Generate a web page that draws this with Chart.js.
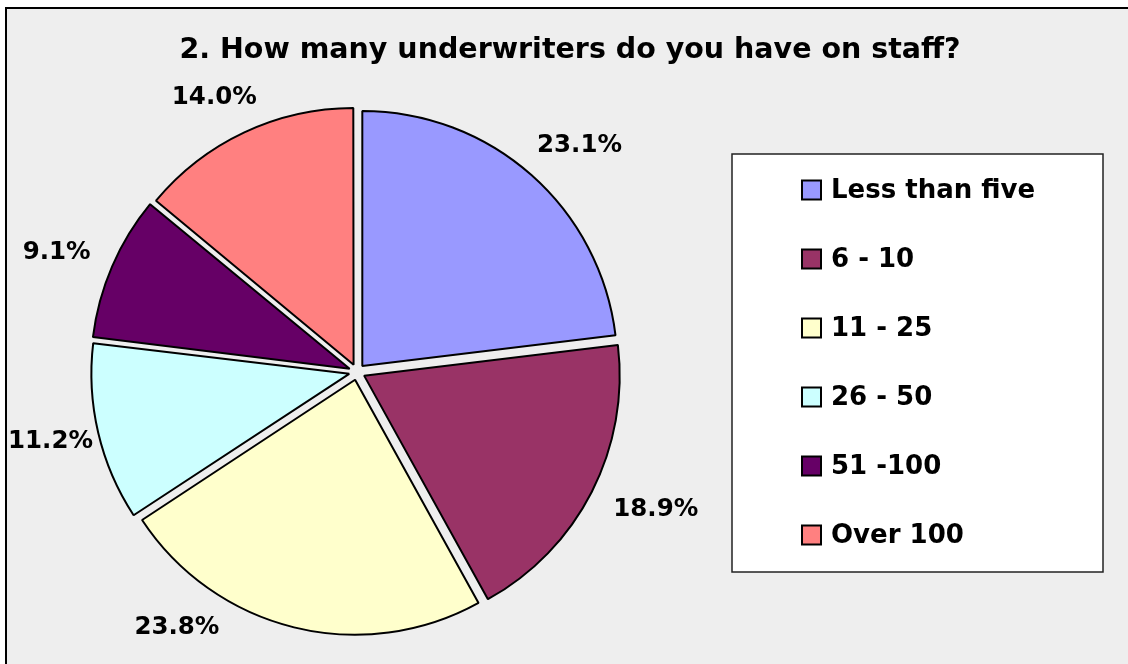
<!DOCTYPE html>
<html>
<head>
<meta charset="utf-8">
<script src="https://cdn.jsdelivr.net/npm/chart.js@4.4.1/dist/chart.umd.min.js"></script>
<style>
  html, body { margin: 0; padding: 0; background: #fff; overflow: hidden; }
  #frame { position: absolute; left: 5px; top: 7px; width: 1140px; height: 680px; border: 2px solid #000; background: #eeeeee; }
  #pie { position: absolute; left: 0; top: 0; }
</style>
</head>
<body>
<div id="frame"></div>
<canvas id="pie" width="1128" height="664"></canvas>
<script>
var title = '2. How many underwriters do you have on staff?';
var categories = ['Less than five', '6 - 10', '11 - 25', '26 - 50', '51 -100', 'Over 100'];
var shares = [23.1, 18.9, 23.8, 11.2, 9.1, 14.0];
var colors = ['#9999ff', '#993366', '#ffffcc', '#ccffff', '#660066', '#ff8080'];

var FONT = '"DejaVu Sans", Verdana, sans-serif';
var EXPLODE = 32; // chart.js moves each arc by offset / 4

// title, centred over the whole frame rather than the pie
var titleText = {
  id: 'titleText',
  afterDraw: function (chart) {
    var ctx = chart.ctx;
    ctx.save();
    ctx.font = 'bold 28.5px ' + FONT;
    ctx.fillStyle = '#000';
    ctx.textAlign = 'center';
    ctx.textBaseline = 'middle';
    ctx.fillText(title, chart.width / 2 + 6, 51);
    ctx.restore();
  }
};

// percentage labels outside each slice
var pctLabels = {
  id: 'pctLabels',
  afterDatasetsDraw: function (chart) {
    var ctx = chart.ctx;
    var meta = chart.getDatasetMeta(0);
    var minX = 8, minY = 80, maxY = 638;
    ctx.save();
    ctx.font = 'bold 24.5px ' + FONT;
    ctx.fillStyle = '#000';
    ctx.textAlign = 'center';
    ctx.textBaseline = 'middle';
    meta.data.forEach(function (arc, i) {
      var p = arc.getProps(['x', 'y', 'startAngle', 'endAngle', 'outerRadius'], true);
      var text = shares[i].toFixed(1) + '%';
      var w = ctx.measureText(text).width, h = 20;
      var off = arc.options.offset / 4, gap = 30;
      var a = (p.startAngle + p.endAngle) / 2;
      function place(ang) {
        var dx = Math.cos(ang), dy = Math.sin(ang);
        var r = p.outerRadius + off + gap;
        return { x: p.x + dx * (r + w / 2), y: p.y + dy * (r + h / 2) };
      }
      var pos = place(a), n = 0;
      while (pos.y + h / 2 > maxY && n < 300) {
        a += (a > Math.PI / 2 ? 0.005 : -0.005);
        pos = place(a); n++;
      }
      while (pos.y - h / 2 < minY && n < 600) {
        a += (a > Math.PI / 2 ? -0.005 : 0.005);
        pos = place(a); n++;
      }
      if (pos.x - w / 2 < minX) pos.x = minX + w / 2;
      ctx.fillText(text, pos.x, pos.y);
    });
    ctx.restore();
  }
};

// boxed legend on the right
var legendBox = {
  id: 'legendBox',
  afterDraw: function (chart) {
    var ctx = chart.ctx;
    var left = chart.width - 396, top = 154, w = 371, h = 418;
    var sq = 19, rowGap = 69, firstRow = 190;
    ctx.save();
    ctx.fillStyle = '#fff';
    ctx.fillRect(left, top, w, h);
    ctx.strokeStyle = '#222';
    ctx.lineWidth = 1.5;
    ctx.strokeRect(left, top, w, h);
    ctx.font = 'bold 26px ' + FONT;
    ctx.textAlign = 'left';
    ctx.textBaseline = 'middle';
    categories.forEach(function (label, i) {
      var cy = firstRow + i * rowGap;
      ctx.fillStyle = colors[i];
      ctx.fillRect(left + 70, cy - sq / 2, sq, sq);
      ctx.strokeStyle = '#000';
      ctx.lineWidth = 2;
      ctx.strokeRect(left + 70, cy - sq / 2, sq, sq);
      ctx.fillStyle = '#000';
      ctx.fillText(label, left + 99, cy + 1);
    });
    ctx.restore();
  }
};

new Chart(document.getElementById('pie'), {
  type: 'pie',
  data: {
    labels: categories,
    datasets: [{
      data: shares,
      backgroundColor: colors,
      hoverBackgroundColor: colors,
      borderColor: '#000',
      hoverBorderColor: '#000',
      borderWidth: 2,
      hoverBorderWidth: 2,
      offset: EXPLODE,
      hoverOffset: EXPLODE
    }]
  },
  options: {
    responsive: false,
    animation: false,
    events: [],
    layout: { padding: { left: 85, right: 499, top: 100, bottom: 20 } },
    plugins: {
      legend: { display: false },
      title: { display: false },
      tooltip: { enabled: false }
    }
  },
  plugins: [titleText, pctLabels, legendBox]
});
</script>
</body>
</html>
